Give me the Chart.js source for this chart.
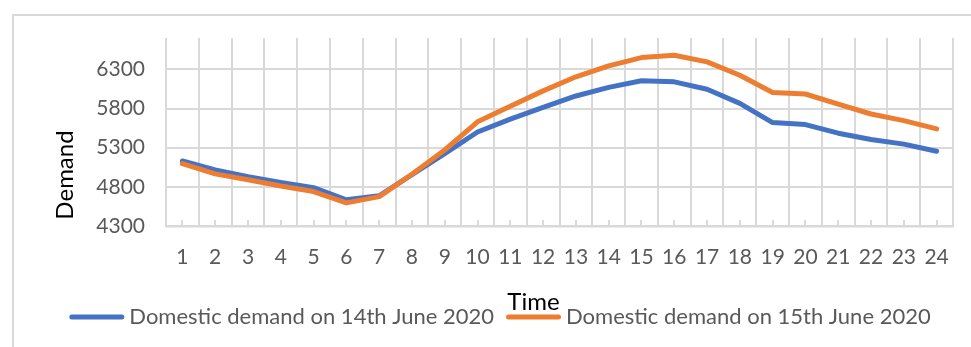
<!DOCTYPE html>
<html>
<head>
<meta charset="utf-8">
<script src="https://cdn.jsdelivr.net/npm/chart.js@4/dist/chart.umd.min.js"></script>
<style>
  html, body { margin: 0; padding: 0; background: #ffffff; }
  #wrap { width: 971px; height: 347px; }
</style>
</head>
<body>
<div id="wrap"><canvas id="chart" width="971" height="347"></canvas></div>
<script>
// Hour of day (x categories)
const hours = ['1', '2', '3', '4', '5', '6', '7', '8', '9', '10', '11', '12',
               '13', '14', '15', '16', '17', '18', '19', '20', '21', '22', '23', '24'];

// Hourly domestic demand
const demand14June = [5130, 5015, 4930, 4855, 4790, 4635, 4685, 4955, 5225, 5500, 5665, 5815,
                      5960, 6070, 6155, 6140, 6045, 5865, 5620, 5595, 5485, 5405, 5345, 5255];
const demand15June = [5095, 4965, 4890, 4810, 4740, 4595, 4675, 4960, 5270, 5630, 5830, 6025,
                      6205, 6345, 6450, 6480, 6395, 6225, 6005, 5985, 5855, 5730, 5645, 5540];

// Value axis ticks
const demandTicks = [4300, 4800, 5300, 5800, 6300];

const seriesNames = ['Domestic demand on 14th June 2020', 'Domestic demand on 15th June 2020'];
const xTitle = 'Time';
const yTitle = 'Demand';

const GRID = '#d9d9d9';
const LABEL = '#595959';
const FONT = 'Lato';

// Frame, axis titles, legend and the small category tick marks
const decorations = {
  id: 'decorations',
  beforeDraw(chart) {
    const ctx = chart.ctx;
    ctx.save();
    ctx.strokeStyle = GRID;
    ctx.lineWidth = 2;
    ctx.strokeRect(13, 15, 1100, 500);
    ctx.restore();
  },
  beforeDatasetsDraw(chart) {
    const ctx = chart.ctx;
    const x = chart.scales.x;
    const bottom = chart.chartArea.bottom;
    ctx.save();
    ctx.strokeStyle = GRID;
    ctx.lineWidth = 2;
    ctx.beginPath();
    for (let i = 0; i < hours.length; i++) {
      const px = Math.round(x.getPixelForValue(i));
      ctx.moveTo(px, bottom - 6);
      ctx.lineTo(px, bottom);
    }
    ctx.stroke();
    ctx.restore();
  },
  afterDraw(chart) {
    const ctx = chart.ctx;
    ctx.save();

    // Axis titles
    ctx.fillStyle = '#000000';
    ctx.font = '24px ' + FONT;
    ctx.textAlign = 'center';
    ctx.textBaseline = 'alphabetic';
    ctx.fillText(xTitle, 533.5, 310);

    ctx.save();
    ctx.translate(73, 175);
    ctx.rotate(-Math.PI / 2);
    ctx.fillText(yTitle, 0, 0);
    ctx.restore();

    // Legend, centred below the plot
    ctx.font = '22px ' + FONT;
    ctx.textAlign = 'left';
    const sample = 55, gapText = 5, gapItem = 12;
    const widths = chart.data.datasets.map(d => ctx.measureText(d.label).width);
    let total = 0;
    widths.forEach((w, i) => { total += sample + gapText + w + (i ? gapItem : 0); });
    let cx = 500 - total / 2;
    chart.data.datasets.forEach((d, i) => {
      ctx.strokeStyle = d.borderColor;
      ctx.lineWidth = 5;
      ctx.lineCap = 'round';
      ctx.beginPath();
      ctx.moveTo(cx + 2.5, 317);
      ctx.lineTo(cx + sample - 2.5, 317);
      ctx.stroke();
      ctx.fillStyle = LABEL;
      ctx.fillText(d.label, cx + sample + gapText, 324);
      cx += sample + gapText + widths[i] + gapItem;
    });
    ctx.restore();
  }
};

new Chart(document.getElementById('chart'), {
  type: 'line',
  data: {
    labels: hours,
    datasets: [
      {
        label: seriesNames[0],
        data: demand14June,
        borderColor: '#4472c4',
        backgroundColor: '#4472c4',
        borderWidth: 5,
        pointRadius: 0,
        tension: 0,
        borderCapStyle: 'round',
        borderJoinStyle: 'round',
        order: 1
      },
      {
        label: seriesNames[1],
        data: demand15June,
        borderColor: '#ed7d31',
        backgroundColor: '#ed7d31',
        borderWidth: 5,
        pointRadius: 0,
        tension: 0,
        borderCapStyle: 'round',
        borderJoinStyle: 'round',
        order: 0
      }
    ]
  },
  options: {
    responsive: false,
    animation: false,
    devicePixelRatio: 1,
    layout: { padding: { left: 0, top: 38, right: 18, bottom: 0 } },
    plugins: {
      legend: { display: false },
      tooltip: { enabled: false },
      title: { display: false }
    },
    scales: {
      x: {
        type: 'category',
        offset: true,
        grid: { offset: true, color: GRID, lineWidth: 2, drawTicks: false },
        border: { display: true, color: GRID, width: 2.5 },
        ticks: {
          color: LABEL,
          font: { family: FONT, size: 21 },
          padding: 19,
          maxRotation: 0,
          autoSkip: false
        },
        afterFit(scale) { scale.height = 121; }
      },
      y: {
        min: 4300,
        max: 6700,
        grid: { color: GRID, lineWidth: 2, drawTicks: false },
        border: { display: false },
        ticks: {
          color: LABEL,
          font: { family: FONT, size: 21 },
          padding: 21,
          callback: (value) => String(value)
        },
        afterBuildTicks(scale) { scale.ticks = demandTicks.map(v => ({ value: v })); },
        afterFit(scale) { scale.width = 166; }
      }
    }
  },
  plugins: [decorations]
});
</script>
</body>
</html>
